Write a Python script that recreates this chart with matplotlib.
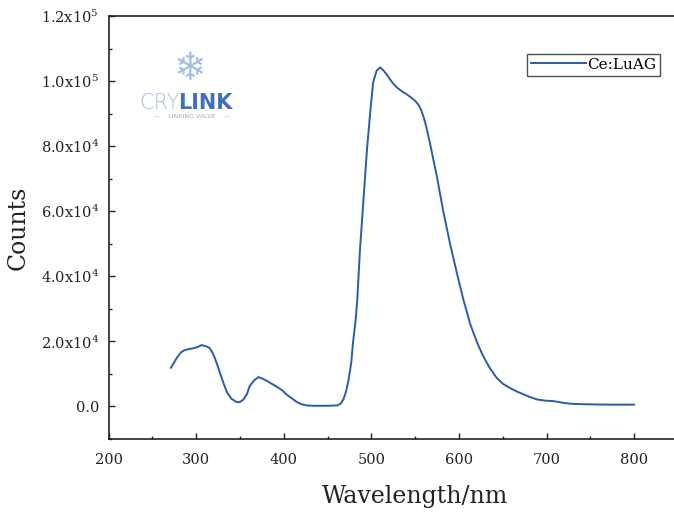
import matplotlib
matplotlib.use("Agg")
import matplotlib.pyplot as plt
from matplotlib.ticker import MultipleLocator, FixedLocator, FixedFormatter

# ---- data ----
wavelength = [271, 274, 277, 280, 283, 286, 291, 297, 302, 306, 311, 315, 318, 321,
              324, 327, 331, 335, 340, 346, 350, 354, 358, 361, 366, 371, 376, 381,
              386, 392, 398, 403, 409, 415, 420, 426, 435, 445, 455, 461, 465, 468,
              471, 474, 477, 479, 482, 484, 487, 491, 495, 499, 502, 506, 510, 514,
              518, 521, 525, 529, 535, 540, 545, 550, 554, 557, 560, 563, 567, 575,
              582, 590, 598, 605, 613, 618, 623, 628, 635, 643, 650, 658, 666, 674,
              681, 689, 698, 708, 717, 727, 740, 757, 775, 790, 800]
counts = [11900, 13200, 14600, 15800, 16700, 17200, 17600, 17900, 18300, 18860, 18500,
          18000, 16800, 15000, 12800, 10360, 7200, 4400, 2400, 1330, 1400, 2150, 3900,
          6250, 8000, 9030, 8500, 7800, 7000, 6050, 5000, 3700, 2500, 1330, 700, 300,
          200, 200, 250, 300, 900, 2150, 4500, 8300, 13500, 19600, 26500, 33400, 48300,
          63700, 79100, 91400, 99600, 103200, 104200, 103200, 101800, 100600, 99200,
          98060, 96800, 96000, 95000, 93900, 92600, 91000, 88600, 85600, 80800, 70400,
          60100, 49800, 40600, 32900, 25200, 21600, 18200, 15300, 11900, 8800, 7000,
          5700, 4600, 3700, 2900, 2150, 1800, 1630, 1200, 830, 700, 600, 550, 550, 550]
series_label = "Ce:LuAG"

x_ticks = [200, 300, 400, 500, 600, 700, 800]
y_ticks = [0, 20000, 40000, 60000, 80000, 100000, 120000]
y_tick_labels = ["0.0", r"2.0x10$^4$", r"4.0x10$^4$", r"6.0x10$^4$",
                 r"8.0x10$^4$", r"1.0x10$^5$", r"1.2x10$^5$"]

plt.rcParams['font.family'] = ['DejaVu Serif']
plt.rcParams['mathtext.fontset'] = 'dejavuserif'

fig = plt.figure(figsize=(6.74, 5.15), dpi=100)
ax = fig.add_axes([0.1613, 0.1476, 0.8444, 0.8214])

line_color = "#2b5bab"
ax.plot(wavelength, counts, color=line_color, lw=1.4, label=series_label)

ax.set_xlim(200, 850)
ax.set_ylim(-10000, 120000)

ax.xaxis.set_major_locator(FixedLocator(x_ticks))
ax.xaxis.set_minor_locator(MultipleLocator(50))
ax.yaxis.set_major_locator(FixedLocator(y_ticks))
ax.yaxis.set_major_formatter(FixedFormatter(y_tick_labels))
ax.yaxis.set_minor_locator(FixedLocator(list(range(-10000, 120001, 10000))))

ax.tick_params(which='both', direction='in', labelsize=10.5, color='#222222',
               labelcolor='#222222', top=False, right=False)
ax.tick_params(which='major', length=4, width=1.0)
ax.tick_params(axis='x', which='major', pad=10)
ax.tick_params(axis='y', which='major', pad=7)
ax.tick_params(which='minor', length=2.5, width=1.0)
for s in ax.spines.values():
    s.set_linewidth(1.2)
    s.set_color('#222222')

ax.set_xlabel("Wavelength/nm", fontsize=17, color='#222222')
ax.xaxis.set_label_coords(0.538, -0.108)
ax.set_ylabel("Counts", fontsize=17, color='#222222', labelpad=8)

leg = ax.legend(loc='upper right', bbox_to_anchor=(660 / 674, 1 - 54 / 515),
                bbox_transform=fig.transFigure, frameon=True, fancybox=False,
                fontsize=11, handlelength=3.6, handletextpad=0.1,
                borderpad=0.25, borderaxespad=0)
leg.get_frame().set_edgecolor('#222222')
leg.get_frame().set_linewidth(1.0)

# faint logo watermark
fig.text(190 / 674, 1 - 69 / 515, "\u2744", fontsize=28, color='#8fb0dc',
         ha='center', va='center', family='DejaVu Sans', alpha=0.8)
fig.text(180 / 674, 1 - 103 / 515, "CRY", fontsize=15, color='#a9bddb',
         ha='right', va='center', family='DejaVu Sans', fontweight='light')
fig.text(178 / 674, 1 - 103 / 515, "LINK", fontsize=15, color='#3f6fbf',
         ha='left', va='center', family='DejaVu Sans', fontweight='bold')
fig.text(192 / 674, 1 - 116 / 515, "\u2014    LINKING VALUE    \u2014", fontsize=4.5,
         color='#aaaaaa', ha='center', va='center', family='DejaVu Sans')

fig.savefig("out.png", dpi=100)
